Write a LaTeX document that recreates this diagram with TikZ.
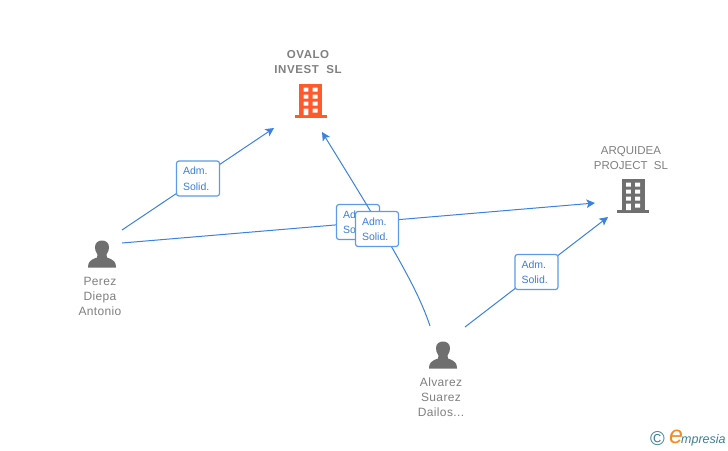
\documentclass[tikz,border=0pt]{standalone}
\usepackage{fontspec}
\setmainfont{Liberation Sans}
\usetikzlibrary{arrows.meta}
\definecolor{linkblue}{HTML}{3B82E0}
\definecolor{boxblue}{HTML}{5B9BE8}
\definecolor{labeltxt}{HTML}{3A7FD5}
\definecolor{iconorange}{HTML}{FF5A2C}
\definecolor{icongray}{HTML}{6F6F6F}
\definecolor{txtgray}{HTML}{808080}
\definecolor{logoteal}{HTML}{3F7F9A}
\definecolor{logoorange}{HTML}{F28C1E}
\tikzset{
  x=1pt,y=-1pt,
  link/.style={draw=linkblue,line width=1pt,-{Stealth[length=8.5pt,width=8.5pt,inset=2pt]}},
  rolebox/.style={draw=boxblue,line width=1.2pt,fill=white,rounded corners=2.5pt,minimum width=43pt,minimum height=35pt,inner sep=0pt,text width=30pt,align=left,text=labeltxt,font=\fontsize{10.5}{15.5}\selectfont},
  firmname/.style={text=txtgray,align=center,inner sep=0pt,font=\fontsize{11.5}{15}\selectfont\bfseries\addfontfeatures{LetterSpace=5}},
  firmnamelight/.style={text=txtgray,align=center,inner sep=0pt,font=\fontsize{11.5}{15}\selectfont},
  personname/.style={text=txtgray,align=center,inner sep=0pt,font=\fontsize{12}{15}\selectfont\addfontfeatures{LetterSpace=3}},
  pics/building/.style={code={
    \fill[#1] (-11.5,-16) rectangle (11.5,15);
    \fill[#1] (-16,15) rectangle (16,18);
    \fill[white] (-7,-12.5) rectangle (-2.2,-8.5) (2.2,-12.5) rectangle (7,-8.5)
                 (-7,-5.5) rectangle (-2.2,-1.5) (2.2,-5.5) rectangle (7,-1.5)
                 (-7,1.5) rectangle (-2.2,5.5) (2.2,1.5) rectangle (7,5.5)
                 (-7,8.5) rectangle (-2.2,15) (2.2,8.5) rectangle (7,12.5);
  }},
  pics/person/.style={code={
    \fill[icongray] (-14,13.5) .. controls (-14,8) and (-12,6) .. (-5,3.5)
      -- (-4.5,0.5) .. controls (-6.5,-2) and (-7,-5) .. (-7,-7)
      .. controls (-7,-11.5) and (-3.5,-13.5) .. (0,-13.5)
      .. controls (3.5,-13.5) and (7,-11.5) .. (7,-7)
      .. controls (7,-5) and (6.5,-2) .. (4.5,0.5)
      -- (5,3.5) .. controls (12,6) and (14,8) .. (14,13.5) -- cycle;
  }}
}
\begin{document}
\begin{tikzpicture}
\useasboundingbox (0,0) rectangle (728,450);
\fill[white] (0,0) rectangle (728,450);
% entities
\pic at (310.5,100) {building=iconorange};
\pic at (633,195) {building=icongray};
\pic at (102,254) {person};
\pic at (443,355) {person};
\node[firmname] (ovalo) at (308,62.5) {OVALO\\INVEST\ \ SL};
\node[firmnamelight] (arquidea) at (631,158) {ARQUIDEA\\PROJECT\ \ SL};
\node[personname] (perez) at (100,296) {Perez\\Diepa\\Antonio};
\node[personname] (alvarez) at (441,397) {Alvarez\\Suarez\\Dailos...};
% connector ends
\coordinate (p1) at (122,230);
\coordinate (p2) at (122,243);
\coordinate (a1) at (430,326);
\coordinate (a2) at (465,327);
\coordinate (ovaloA) at (274,128);
\coordinate (ovaloB) at (322,132);
\coordinate (arqA) at (595,203);
\coordinate (arqB) at (608,217);
% connectors and role labels
\path[link] (p1) -- (ovaloA);
\node[rolebox] (r1) at (198,178.5) {Adm.\\Solid.};
\path[link] (p2) -- (arqA);
\node[rolebox] (r2) at (358,222) {Adm.\\Solid.};
\path[link] (a1) .. controls (418,290) and (395,250) .. (ovaloB);
\node[rolebox] (r3) at (377,229) {Adm.\\Solid.};
\path[link] (a2) -- (arqB);
\node[rolebox] (r4) at (536.5,272) {Adm.\\Solid.};
% logo
\node[text=logoteal,inner sep=0pt,font=\fontsize{20}{20}\selectfont] (copy) at (657.5,439) {©};
\node[text=logoorange,inner sep=0pt,font=\fontsize{25}{25}\selectfont\itshape] (logoe) at (676,436.5) {e};
\node[text=logoteal,inner sep=0pt,anchor=west,font=\fontsize{12.5}{14}\selectfont\itshape] (logotxt) at (681,440) {mpresia};
\end{tikzpicture}
\end{document}
